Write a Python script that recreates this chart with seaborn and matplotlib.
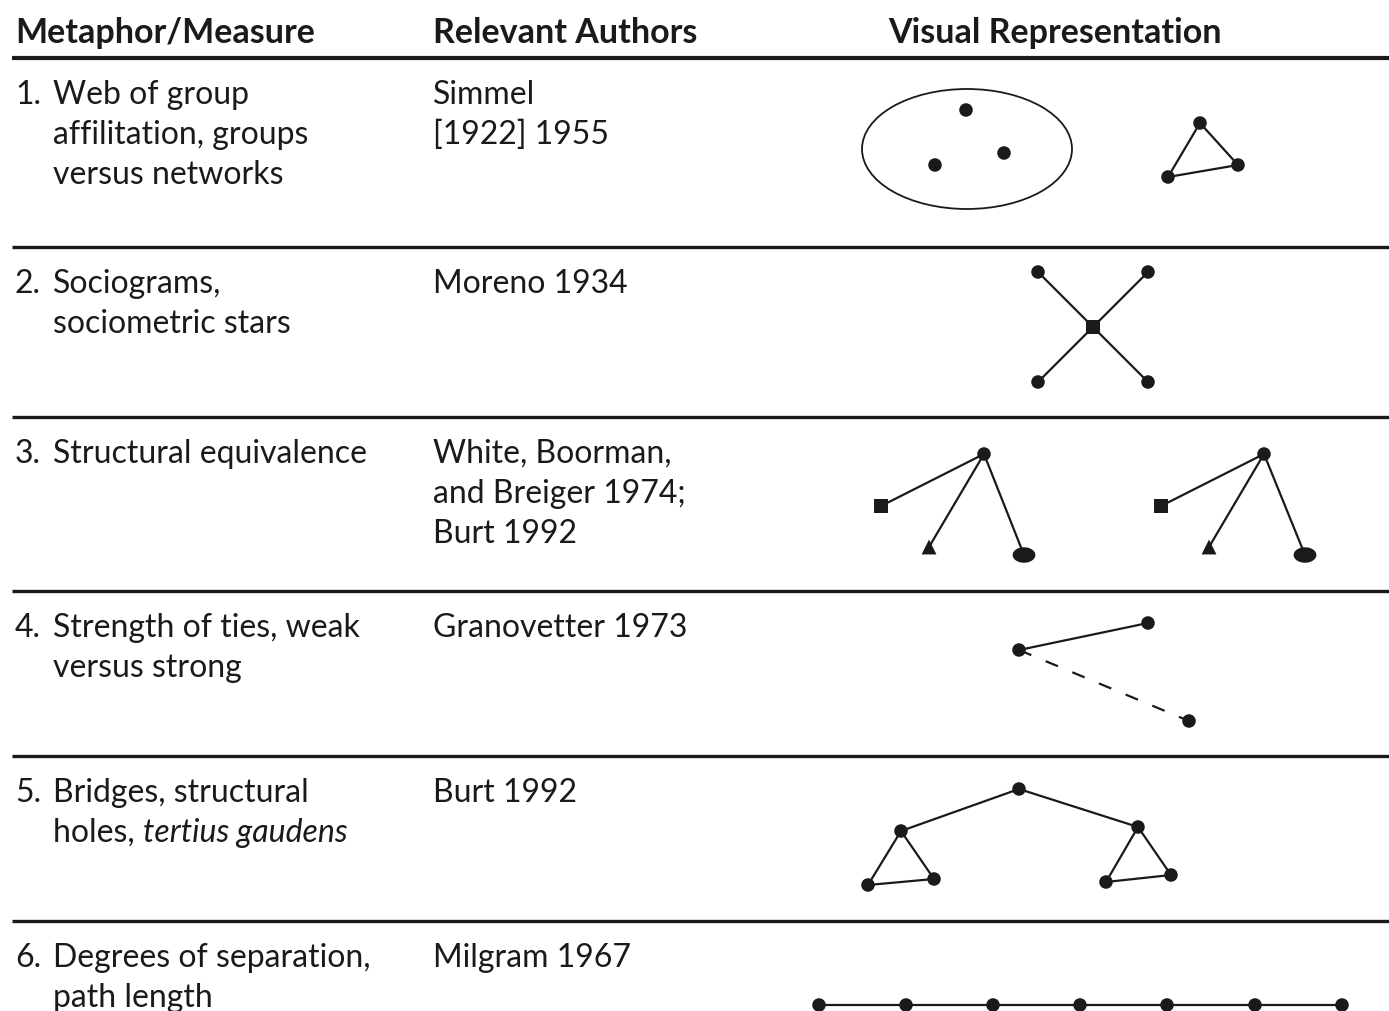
import numpy as np
import pandas as pd
import matplotlib
matplotlib.use("Agg")
import matplotlib.pyplot as plt
from matplotlib.patches import Ellipse
import seaborn as sns

# -----------------------------
# Table text
# -----------------------------
headers = ["Metaphor/Measure", "Relevant Authors", "Visual Representation"]
numbers = ["1.", "2.", "3.", "4.", "5.", "6."]
metaphors = [
    ["Web of group", "affilitation, groups", "versus networks"],
    ["Sociograms,", "sociometric stars"],
    ["Structural equivalence"],
    ["Strength of ties, weak", "versus strong"],
    ["Bridges, structural", "holes, "],
    ["Degrees of separation,", "path length"],
]
italic_part = "tertius gaudens"  # follows "holes, " in row 5
authors = [
    ["Simmel", "[1922] 1955"],
    ["Moreno 1934"],
    ["White, Boorman,", "and Breiger 1974;", "Burt 1992"],
    ["Granovetter 1973"],
    ["Burt 1992"],
    ["Milgram 1967"],
]

# -----------------------------
# Network diagrams: nodes (x, y, shape) and edges (index pairs)
# -----------------------------
node_x = [966, 935, 1004, 1200, 1238, 1168,                       # row 1
          1093, 1038, 1148, 1038, 1148,                           # row 2
          984, 881, 929, 1024, 1264, 1161, 1209, 1305,            # row 3
          1019, 1148, 1189,                                       # row 4
          1019, 901, 1138, 868, 934, 1106, 1171,                  # row 5
          819, 906, 993, 1080, 1167, 1255, 1342]                  # row 6
node_y = [111, 166, 154, 124, 166, 178,
          328, 273, 273, 383, 383,
          455, 507, 548, 556, 455, 507, 548, 556,
          651, 624, 722,
          790, 832, 828, 886, 880, 883, 876,
          1006, 1006, 1006, 1006, 1006, 1006, 1006]
node_shape = ["dot"] * 6 + ["square"] + ["dot"] * 4 \
    + ["dot", "square", "tri", "oval"] * 2 \
    + ["dot"] * 3 + ["dot"] * 7 + ["dot"] * 7

solid_edges = [(3, 4), (4, 5), (5, 3),
               (6, 7), (6, 8), (6, 9), (6, 10),
               (11, 12), (11, 13), (11, 14), (15, 16), (15, 17), (15, 18),
               (19, 20),
               (22, 23), (22, 24), (23, 25), (25, 26), (26, 23),
               (24, 27), (27, 28), (28, 24),
               (29, 30), (30, 31), (31, 32), (32, 33), (33, 34), (34, 35)]
dashed_edges = [(19, 21)]

# group boundary around the three affiliated nodes (row 1)
group_center = (967, 150)
group_size = (210, 120)

# layout
first_baseline = [104, 293, 463, 637, 802, 967]
line_step = 40
rule_y = [248, 418, 592, 757, 922]

nodes = pd.DataFrame({"x": node_x, "y": node_y, "shape": node_shape})

# -----------------------------
# Figure
# -----------------------------
sns.set_theme(style="white")
plt.rcParams["font.family"] = ["Lato", "DejaVu Sans"]

fig = plt.figure(figsize=(13.89, 10.12), dpi=100)
ax = fig.add_axes([0, 0, 1, 1])
ax.set_xlim(0, 1389)
ax.set_ylim(1012, 0)
ax.axis("off")

fs = 23
fs_head = 24.5
ink = "#1a1a1a"

# header
for x, h in zip([15, 433, 888], headers):
    ax.text(x, 43, h, fontsize=fs_head, fontweight="bold", color=ink, va="baseline")
ax.plot([12, 1389], [59, 59], color=ink, lw=3.0, solid_capstyle="butt")
for y in rule_y:
    ax.plot([12, 1389], [y, y], color=ink, lw=2.4, solid_capstyle="butt")

# text columns
last = None
for i in range(len(metaphors)):
    y0 = first_baseline[i]
    ax.text(15, y0, numbers[i], fontsize=fs, color=ink, va="baseline")
    for j, line in enumerate(metaphors[i]):
        last = ax.text(53, y0 + j * line_step, line, fontsize=fs, color=ink,
                       va="baseline")
    for j, line in enumerate(authors[i]):
        ax.text(433, y0 + j * line_step, line, fontsize=fs, color=ink, va="baseline")

# italic phrase placed right after "holes, "
holes = ax.texts[[t.get_text() for t in ax.texts].index("holes, ")]
fig.canvas.draw()
bb = holes.get_window_extent()
x_it = ax.transData.inverted().transform((bb.x1, bb.y0))[0]
ax.text(x_it, first_baseline[4] + line_step, italic_part, fontsize=fs,
        style="italic", color=ink, va="baseline")

# diagrams
ax.add_patch(Ellipse(group_center, group_size[0], group_size[1],
                     fill=False, ec=ink, lw=1.3))
for a, b in solid_edges:
    ax.plot([node_x[a], node_x[b]], [node_y[a], node_y[b]], color=ink, lw=1.6, zorder=2)
for a, b in dashed_edges:
    ax.plot([node_x[a], node_x[b]], [node_y[a], node_y[b]], color=ink, lw=1.6,
            dashes=(6, 7), zorder=2)

t = np.linspace(0, 2 * np.pi, 40)
oval_marker = np.column_stack([np.cos(t), 0.68 * np.sin(t)])
marker_map = {"dot": ("o", 95), "square": ("s", 100), "tri": ("^", 115),
              "oval": (oval_marker, 270)}
for shape, grp in nodes.groupby("shape"):
    m, s = marker_map[shape]
    sns.scatterplot(data=grp, x="x", y="y", marker=m, s=s, color=ink,
                    edgecolor="none", linewidth=0, ax=ax, zorder=3, legend=False)
ax.set_xlim(0, 1389)
ax.set_ylim(1012, 0)
ax.axis("off")

fig.savefig("out.png", dpi=100, facecolor="white")
